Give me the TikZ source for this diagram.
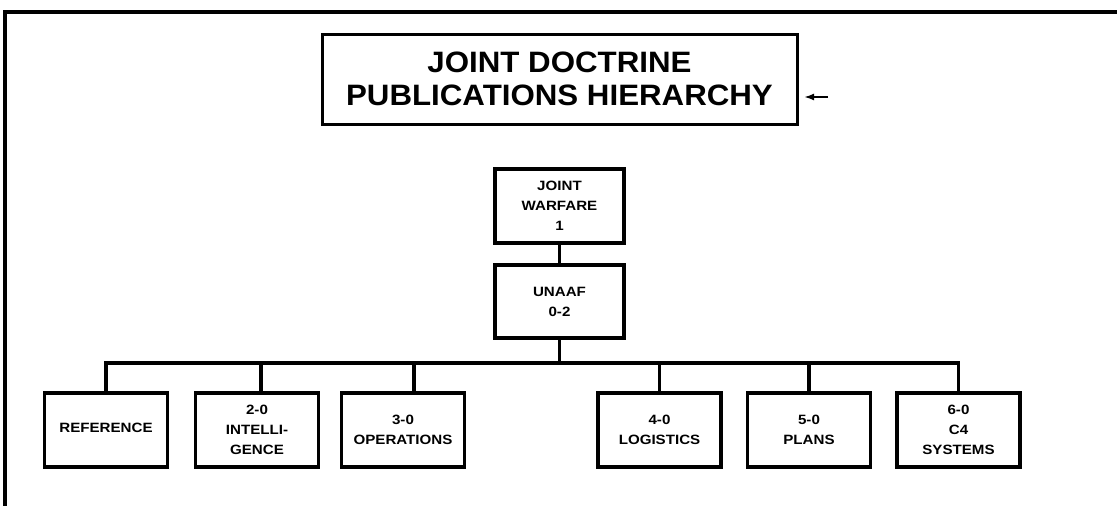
\documentclass[tikz,border=0pt]{standalone}
\usepackage{fontspec}
\usetikzlibrary{arrows.meta}
\newfontfamily\titlefont{Liberation Sans}[FakeStretch=1.06]
\newfontfamily\boxfont{Liberation Sans}[FakeStretch=1.12]
\begin{document}
\begin{tikzpicture}[x=1pt,y=-1pt,
  heavy/.style={line width=3.2pt},
  titlebox/.style={draw,line width=3pt,minimum width=475pt,minimum height=90pt,inner sep=0pt,
    align=center,font=\titlefont\bfseries\fontsize{29.5}{33}\selectfont},
  unitbox/.style={draw,line width=3.4pt,minimum width=123pt,minimum height=74pt,inner sep=0pt,
    align=center,font=\boxfont\bfseries\fontsize{13.5}{20}\selectfont},
  conn/.style={line width=3.2pt},
  marker/.style={line width=2.6pt,-{Latex[length=10pt,width=7pt]}}]
\fill[white] (0,0) rectangle (1117,506);
\useasboundingbox (0,0) rectangle (1117,506);
% frame
\draw[heavy] (5,506) -- (5,12) -- (1117,12);
% title
\node[titlebox] (tb) at (559.5,79) {JOINT DOCTRINE\\PUBLICATIONS HIERARCHY};
\coordinate (mk1) at (828,97);
\coordinate (mk2) at (804,97);
\draw[marker] (mk1) -- (mk2);
% top of hierarchy
\node[unitbox,minimum width=129pt] (jw) at (559.5,206) {JOINT\\WARFARE\\1};
\node[unitbox,minimum width=129pt,minimum height=73pt] (ua) at (559.5,301.5) {\raisebox{-6pt}{\parbox{100pt}{\centering UNAAF\\0-2}}};
\draw[conn] (jw.south) -- (ua.north);
% bottom row
\node[unitbox] (o1) at (106,430) {\raisebox{5pt}{REFERENCE}};
\node[unitbox] (o2) at (257,430) {2-0\\INTELLI-\\GENCE};
\node[unitbox] (o3) at (403,430) {3-0\\OPERATIONS};
\node[unitbox] (o4) at (659.5,430) {4-0\\LOGISTICS};
\node[unitbox] (o5) at (809,430) {5-0\\PLANS};
\node[unitbox] (o6) at (958.5,430) {6-0\\C4\\SYSTEMS};
% bus
\coordinate (bus) at (0,363);
\draw[conn] (o1.north) -- (o1.north |- bus) -- (o6.north |- bus) -- (o6.north);
\draw[conn] (ua.south) -- (ua.south |- bus);
\draw[conn] ([xshift=4pt]o2.north) -- ([xshift=4pt]o2.north |- bus);
\draw[conn] ([xshift=11pt]o3.north) -- ([xshift=11pt]o3.north |- bus);
\draw[conn] (o4.north) -- (o4.north |- bus);
\draw[conn] (o5.north) -- (o5.north |- bus);
\end{tikzpicture}
\end{document}
